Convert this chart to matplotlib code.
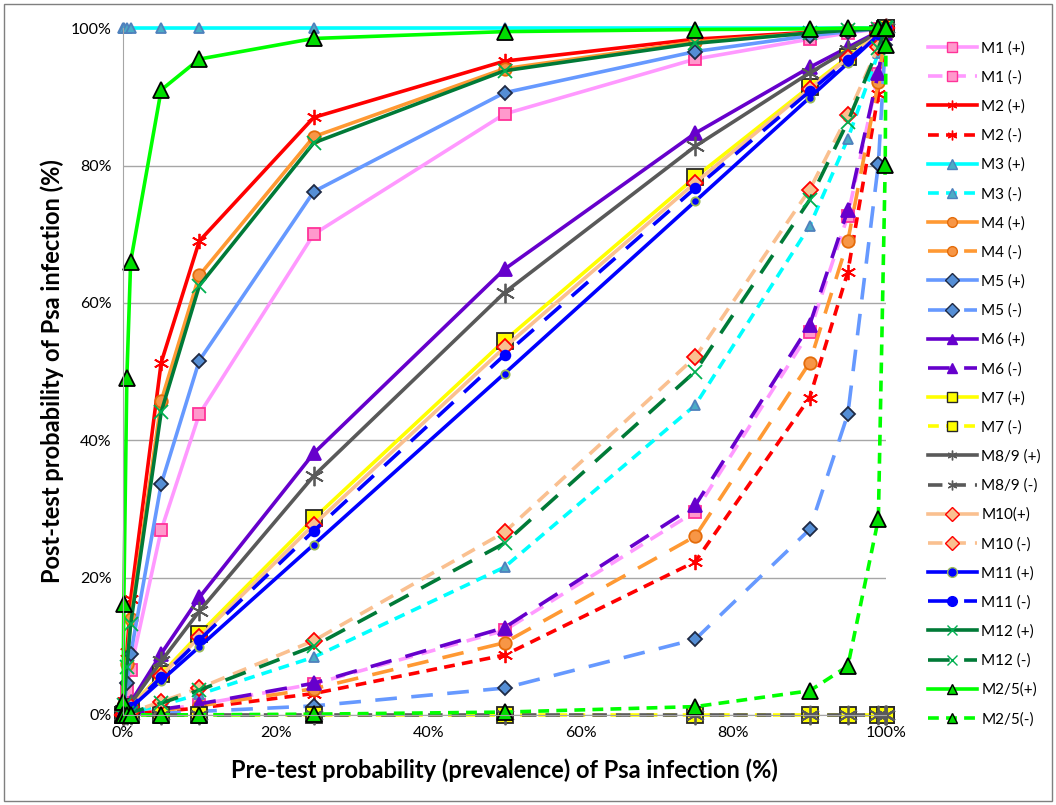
import numpy as np
import matplotlib
matplotlib.use("Agg")
import matplotlib.pyplot as plt
from matplotlib.ticker import PercentFormatter, MultipleLocator
from matplotlib.lines import Line2D
from matplotlib.patches import Rectangle

plt.rcParams['font.family'] = ['Lato', 'DejaVu Sans']

# pre-test probability (%)
prevalence = [0, 0.01, 0.1, 0.5, 1, 5, 10, 25, 50, 75, 90, 95, 99, 99.9, 99.99, 100]

# post-test probability (%)
m1_pos = [0, 0.1, 0.7, 3.4, 6.6, 26.9, 43.8, 70.0, 87.5, 95.5, 98.4, 99.3, 99.9, 100, 100, 100]
m1_neg = [0, 0, 0, 0.1, 0.1, 0.7, 1.5, 4.5, 12.3, 29.6, 55.8, 72.7, 93.3, 99.3, 99.9, 100]
m2_pos = [0, 0.2, 2.0, 9.1, 16.8, 51.3, 69.0, 87.0, 95.2, 98.4, 99.4, 99.7, 99.9, 100, 100, 100]
m2_neg = [0, 0, 0, 0, 0.1, 0.5, 1.0, 3.1, 8.7, 22.3, 46.2, 64.5, 90.4, 99.0, 99.9, 100]
m3_pos = [np.nan, 100, 100, 100, 100, 100, 100, 100, 100, 100, 100, 100, 100, 100, 100, 100]
m3_neg = [0, 0, 0, 0.1, 0.3, 1.4, 3.0, 8.4, 21.5, 45.1, 71.2, 83.9, 96.4, 99.6, 100, 100]
m4_pos = [0, 0.2, 1.6, 7.4, 13.9, 45.7, 64.0, 84.2, 94.1, 98.0, 99.3, 99.7, 99.9, 100, 100, 100]
m4_neg = [0, 0, 0, 0.1, 0.1, 0.6, 1.3, 3.8, 10.5, 26.0, 51.3, 69.0, 92.1, 99.2, 99.9, 100]
m5_pos = [0, 0.1, 1.0, 4.6, 8.8, 33.6, 51.6, 76.2, 90.6, 96.6, 98.9, 99.5, 99.9, 100, 100, 100]
m5_neg = [0, 0, 0, 0, 0, 0.2, 0.5, 1.3, 3.9, 11.0, 27.0, 43.8, 80.2, 97.6, 99.8, 100]
m6_pos = [0, 0, 0.2, 0.9, 1.8, 8.9, 17.1, 38.1, 64.9, 84.7, 94.3, 97.2, 99.5, 99.9, 100, 100]
m6_neg = [0, 0, 0, 0.1, 0.1, 0.8, 1.6, 4.6, 12.7, 30.5, 56.8, 73.5, 93.5, 99.3, 99.9, 100]
m7_pos = [0, 0, 0.1, 0.6, 1.2, 5.9, 11.8, 28.6, 54.5, 78.3, 91.5, 95.8, 99.2, 99.9, 100, 100]
m7_neg = [0, 0, 0, 0, 0, 0, 0, 0, 0, 0, 0, 0, 0, 0, 0, 0]
m89_pos = [0, 0, 0.2, 0.8, 1.6, 7.8, 15.1, 34.8, 61.5, 82.8, 93.5, 96.8, 99.4, 99.9, 100, 100]
m89_neg = [0, 0, 0, 0, 0, 0, 0, 0, 0, 0, 0, 0, 0, 0, 0, 0]
m10_pos = [0, 0, 0.1, 0.6, 1.1, 5.7, 11.3, 27.7, 53.5, 77.5, 91.2, 95.6, 99.1, 99.9, 100, 100]
m10_neg = [0, 0, 0, 0.2, 0.4, 1.9, 3.9, 10.8, 26.6, 52.1, 76.5, 87.3, 97.3, 99.7, 100, 100]
m11_pos = [0, 0, 0.1, 0.5, 1.0, 5.0, 9.9, 24.8, 49.7, 74.8, 89.9, 94.9, 99.0, 99.9, 100, 100]
m11_neg = [0, 0, 0.1, 0.5, 1.1, 5.5, 10.9, 26.8, 52.4, 76.7, 90.8, 95.4, 99.1, 99.9, 100, 100]
m12_pos = [0, 0.1, 1.5, 7.0, 13.2, 44.1, 62.5, 83.3, 93.8, 97.8, 99.3, 99.7, 99.9, 100, 100, 100]
m12_neg = [0, 0, 0, 0.2, 0.3, 1.7, 3.6, 10.0, 25.0, 50.0, 75.0, 86.4, 97.1, 99.7, 100, 100]
m25_pos = [0, 1.9, 16.1, 49.1, 66.0, 91.0, 95.5, 98.5, 99.5, 99.8, 99.9, 100, 100, 100, 100, 100]
m25_neg = [0, 0, 0, 0, 0, 0, 0, 0.1, 0.4, 1.2, 3.5, 7.1, 28.5, 80.1, 97.6, 100]

labels = ["M1 (+)", "M1 (-)", "M2 (+)", "M2 (-)", "M3 (+)", "M3 (-)", "M4 (+)", "M4 (-)",
          "M5 (+)", "M5 (-)", "M6 (+)", "M6 (-)", "M7 (+)", "M7 (-)", "M8/9 (+)", "M8/9 (-)",
          "M10(+)", "M10 (-)", "M11 (+)", "M11 (-)", "M12 (+)", "M12 (-)", "M2/5(+)", "M2/5(-)"]
values = [m1_pos, m1_neg, m2_pos, m2_neg, m3_pos, m3_neg, m4_pos, m4_neg,
          m5_pos, m5_neg, m6_pos, m6_neg, m7_pos, m7_neg, m89_pos, m89_neg,
          m10_pos, m10_neg, m11_pos, m11_neg, m12_pos, m12_neg, m25_pos, m25_neg]

star = (6, 2, 0)
short = (0, (3, 2))
med = (0, (4, 2.5))
long_ = (0, (6, 4))
# color, dash, marker, size, face, edge
styles = [
    ("#ff99ff", "-", "s", 8, "#ff99cc", "#ff3399"),
    ("#ff99ff", med, "s", 8, "#ff99cc", "#ff3399"),
    ("#ff0000", "-", star, 11, "#ff0000", "#ff0000"),
    ("#ff0000", short, star, 11, "#ff0000", "#ff0000"),
    ("#00ffff", "-", "^", 7, "#4bacc6", "#4f81bd"),
    ("#00ffff", short, "^", 7, "#4bacc6", "#4f81bd"),
    ("#ff9933", "-", "o", 9, "#f79646", "#e46c0a"),
    ("#ff9933", long_, "o", 9, "#f79646", "#e46c0a"),
    ("#6699ff", "-", "D", 7, "#558ed5", "#1f2a44"),
    ("#6699ff", long_, "D", 7, "#558ed5", "#1f2a44"),
    ("#6600cc", "-", "^", 10, "#6600cc", "#6600cc"),
    ("#6600cc", long_, "^", 10, "#6600cc", "#6600cc"),
    ("#ffff00", "-", "s", 12, "#ffff00", "#262626"),
    ("#ffff00", short, "s", 12, "#ffff00", "#262626"),
    ("#595959", "-", star, 14, "#595959", "#595959"),
    ("#595959", med, star, 14, "#595959", "#595959"),
    ("#fac090", "-", "D", 8, "#fac090", "#ff0000"),
    ("#fac090", med, "D", 8, "#fac090", "#ff0000"),
    ("#0000ff", "-", "o", 6, "#0000ff", "#9bbb59"),
    ("#0000ff", long_, "o", 7, "#0000ff", "#0000ff"),
    ("#007a37", "-", "x", 10, "#00b050", "#00b050"),
    ("#007a37", long_, "x", 10, "#00b050", "#00b050"),
    ("#00ff00", "-", "^", 11, "#00dd00", "#000000"),
    ("#00ff00", short, "^", 11, "#00dd00", "#000000"),
]

fig = plt.figure(figsize=(10.56, 8.05), dpi=100)
ax = fig.add_axes([0.1165, 0.112, 0.7225, 0.853])

handles = []
for lab, y, st in zip(labels, values, styles):
    c, ls, mk, ms, mfc, mec = st
    ax.plot(prevalence, y, color=c, linestyle=ls, lw=2.6, marker=mk, ms=ms,
            mfc=mfc, mec=mec, mew=1.3, clip_on=False)
    handles.append(Line2D([], [], color=c, linestyle=ls, lw=2.6, marker=mk,
                          ms=7, mfc=mfc, mec=mec, mew=1.0))

ax.set_xlim(0, 100)
ax.set_ylim(0, 100)
ax.xaxis.set_major_locator(MultipleLocator(20))
ax.yaxis.set_major_locator(MultipleLocator(20))
ax.xaxis.set_major_formatter(PercentFormatter(decimals=0))
ax.yaxis.set_major_formatter(PercentFormatter(decimals=0))
ax.grid(axis='y', color='#a6a6a6', lw=1)
ax.set_axisbelow(True)
for s in ['top', 'right']:
    ax.spines[s].set_visible(False)
for s in ['left', 'bottom']:
    ax.spines[s].set_color('#a6a6a6')
ax.tick_params(length=0, labelsize=11.5, pad=8, colors='#000000')

ax.set_xlabel("Pre-test probability (prevalence) of Psa infection (%)", fontsize=17,
              fontweight='bold', labelpad=13)
ax.set_ylabel("Post-test probability of Psa infection (%)", fontsize=17,
              fontweight='bold', labelpad=5)

ax.legend(handles, labels, loc='upper left', bbox_to_anchor=(1.047, 0.99), frameon=False,
          fontsize=11, handlelength=3.2, labelspacing=0.97, handletextpad=0.3,
          borderaxespad=0)

fig.patches.append(Rectangle((0.004, 0.005), 0.992, 0.99, transform=fig.transFigure,
                             fill=False, edgecolor='#7f7f7f', lw=1))

fig.savefig("out.png", dpi=100)
